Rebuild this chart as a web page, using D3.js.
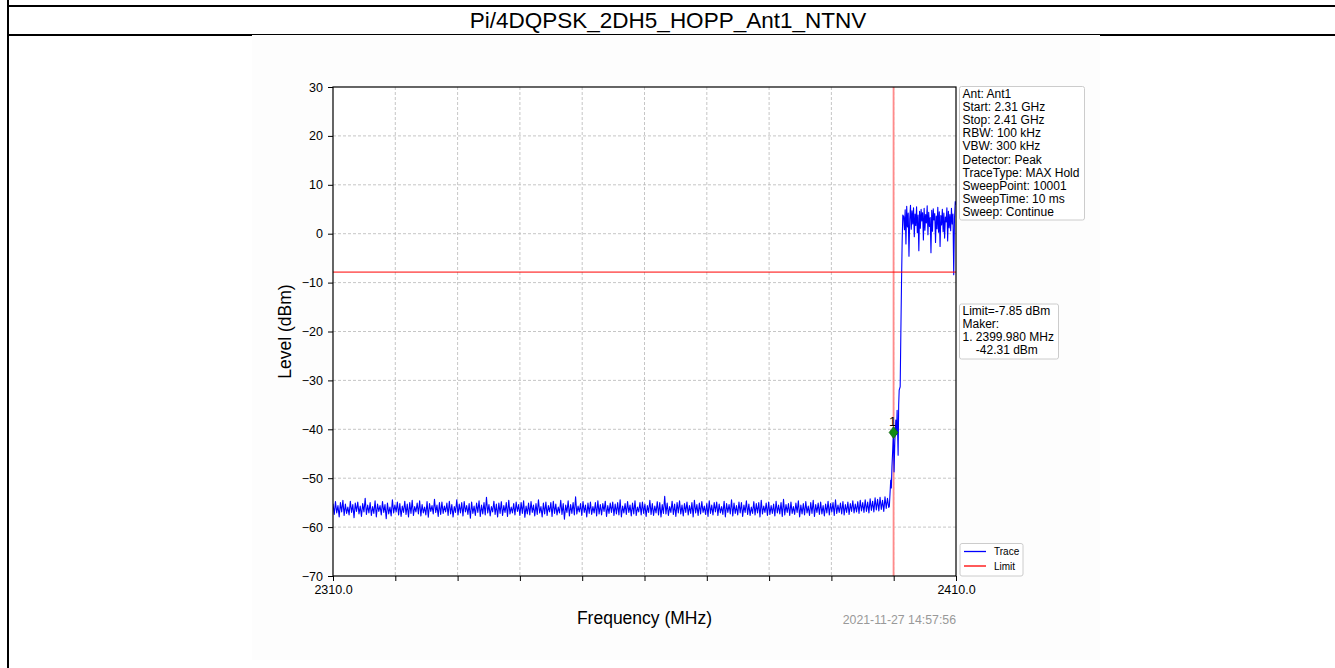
<!DOCTYPE html>
<html><head><meta charset="utf-8">
<script src="https://cdn.jsdelivr.net/npm/d3@7"></script>
<style>
body{margin:0;background:#fff;}
svg{display:block;font-family:"Liberation Sans",Arial,Helvetica,sans-serif;}
</style>
</head><body><svg id="c" width="1335" height="668"></svg>
<script>
const title = "Pi/4DQPSK_2DH5_HOPP_Ant1_NTNV";
const freqStart = 2310, freqStop = 2410;
const levelMin = -70, levelMax = 30;
const yTicks = [30,20,10,0,-10,-20,-30,-40,-50,-60,-70];
const xTicks = [2310,2320,2330,2340,2350,2360,2370,2380,2390,2400,2410];
const xTickLabels = ["2310.0","","","","","","","","","","2410.0"];

// noise floor, evenly spaced sweep points from floorStart to floorStop
const floorStart = 2310, floorStop = 2399.2;
const floorLevels = [
-55.2,-57.4,-54.8,-57.1,-55.6,-57.9,-55.0,-56.9,-54.5,-57.6,
-55.3,-57.2,-55.9,-57.5,-54.7,-57.0,-55.4,-58.1,-55.1,-56.8,
-54.9,-57.3,-55.7,-57.8,-55.2,-56.9,-54.1,-57.4,-55.5,-57.1,
-55.0,-57.6,-55.8,-57.2,-54.6,-57.9,-55.3,-56.8,-55.6,-57.5,
-54.8,-57.0,-55.4,-58.3,-55.1,-57.3,-55.9,-57.7,-54.4,-57.1,
-55.5,-56.9,-54.9,-57.5,-55.2,-57.8,-55.7,-57.0,-54.7,-57.4,
-55.3,-57.9,-55.0,-57.2,-54.5,-57.6,-55.8,-56.9,-55.1,-57.3,
-54.6,-57.7,-55.4,-57.1,-55.9,-57.5,-54.8,-58.0,-55.2,-56.8,
-55.6,-57.3,-54.3,-57.0,-55.5,-57.8,-55.0,-57.4,-54.9,-57.2,
-55.7,-56.9,-55.1,-57.6,-54.7,-57.3,-55.4,-57.9,-55.8,-57.0,
-54.4,-57.5,-55.3,-57.1,-55.0,-57.7,-54.8,-56.9,-55.6,-57.4,
-55.2,-58.2,-54.9,-57.2,-55.7,-57.6,-55.1,-57.0,-54.6,-57.8,
-55.5,-57.3,-55.0,-57.5,-53.9,-57.1,-55.4,-57.7,-55.8,-56.9,
-54.7,-57.4,-55.3,-57.9,-55.1,-57.2,-54.8,-57.6,-55.6,-57.0,
-55.0,-57.8,-54.5,-57.3,-55.9,-57.1,-55.2,-57.5,-54.9,-56.8,
-55.4,-57.6,-55.0,-57.2,-54.6,-58.0,-55.7,-57.3,-55.1,-57.5,
-54.8,-57.0,-55.5,-57.7,-55.2,-57.4,-54.4,-57.1,-55.8,-57.9,
-55.1,-57.3,-54.9,-57.6,-55.6,-56.9,-55.0,-57.8,-54.7,-57.2,
-55.3,-57.5,-55.9,-57.1,-54.5,-57.4,-55.2,-58.4,-55.5,-57.0,
-54.6,-57.7,-55.4,-57.2,-55.0,-57.5,-53.8,-57.3,-55.7,-56.9,
-55.2,-57.6,-54.8,-57.0,-55.5,-57.9,-55.1,-57.2,-54.9,-57.4,
-55.8,-57.1,-55.0,-57.7,-54.6,-57.3,-55.4,-57.5,-55.2,-56.8,
-54.7,-57.8,-55.6,-57.2,-55.1,-57.0,-54.9,-57.6,-55.3,-57.3,
-55.0,-57.5,-54.4,-57.9,-55.7,-57.1,-55.2,-57.4,-54.8,-57.0,
-55.5,-57.7,-55.1,-57.3,-54.6,-57.6,-55.9,-56.9,-55.0,-57.5,
-54.9,-57.2,-55.3,-57.8,-55.6,-57.0,-54.5,-57.4,-55.2,-57.6,
-55.7,-57.1,-54.8,-57.5,-55.0,-57.9,-55.4,-57.2,-53.7,-57.3,
-55.1,-57.6,-55.8,-57.0,-54.7,-57.4,-55.3,-57.8,-55.0,-57.1,
-54.6,-57.3,-55.5,-57.7,-55.2,-57.0,-54.9,-57.5,-55.6,-57.2,
-55.0,-57.9,-54.5,-57.1,-55.4,-57.6,-55.1,-57.3,-54.8,-57.0,
-55.7,-57.4,-55.2,-57.8,-54.6,-57.2,-55.5,-57.5,-55.0,-56.9,
-54.9,-57.6,-55.3,-57.1,-55.8,-57.4,-54.7,-57.9,-55.2,-57.0,
-55.4,-57.3,-54.4,-57.7,-55.1,-57.2,-55.6,-57.5,-54.9,-57.1,
-55.0,-57.8,-55.5,-57.0,-54.6,-57.4,-55.3,-57.6,-55.9,-57.2,
-54.8,-57.5,-55.2,-57.1,-55.0,-57.9,-54.5,-57.3,-55.7,-57.0,
-55.1,-57.6,-54.9,-57.4,-55.6,-57.2,-55.3,-57.7,-54.7,-57.1,
-55.5,-57.3,-55.0,-57.8,-54.3,-57.5,-55.4,-57.0,-55.2,-57.6,
-54.9,-57.2,-55.8,-57.4,-55.1,-57.0,-54.6,-57.9,-55.5,-57.3,
-55.2,-57.5,-54.8,-57.1,-55.7,-57.6,-55.0,-57.2,-54.5,-57.8,
-55.4,-57.0,-55.1,-57.4,-54.9,-57.3,-55.6,-57.7,-55.3,-57.1,
-54.7,-57.5,-55.2,-56.9,-55.0,-57.6,-54.4,-57.2,-55.5,-57.0,
-55.1,-57.3,-54.8,-57.5,-55.4,-57.0,-54.9,-57.4,-55.2,-56.8,
-54.6,-57.1,-55.3,-56.9,-54.8,-57.2,-54.5,-56.7,-55.0,-57.0,
-54.4,-56.8,-54.9,-57.1,-54.2,-56.6,-54.7,-56.9,-54.0,-56.5,
-54.3,-56.7,-53.9,-56.4,-54.5,-56.8,-53.8,-56.2,-54.1,-56.0
];
// band edge, explicit sweep points
const edgeFreqs  = [2399.30,2399.41,2399.52,2399.62,2399.72,2399.85,2399.95,2400.06,2400.18,2400.34,2400.45,2400.55,2400.71,2400.80,2400.88,2401.04,2401.15,2401.26,2401.36,2401.46];
const edgeLevels = [-55.8,-53.1,-50.4,-52.0,-47.6,-44.0,-40.8,-48.7,-42.5,-38.1,-41.0,-36.1,-45.3,-35.0,-32.0,-31.3,-20.0,-9.5,-1.5,3.8];
// in-band, evenly spaced from bandStart to bandStop
const bandStart = 2401.6, bandStop = 2410;
const bandLevels = [
3.5,0.8,4.9,-2.1,5.6,1.4,4.2,-4.6,3.0,5.8,
0.9,4.7,2.0,5.3,-0.6,4.0,1.7,5.5,0.2,3.8,
-3.5,4.6,1.1,5.0,2.6,4.3,-1.3,5.2,0.7,3.9,
2.2,5.7,-0.2,4.4,1.5,3.3,-3.9,4.8,0.5,5.1,
2.8,4.1,-1.8,3.6,1.0,5.4,0.3,4.5,-2.6,3.7,
1.8,5.0,0.4,4.2,-0.9,3.4,2.4,5.3,-1.5,4.6,
1.2,3.9,0.6,5.2,2.0,4.0,-8.4,3.1,6.6,5.9
];

const limitLevel = -7.85;
const markerFreq = 2399.98;
const markerLevelDrawn = -40.65;
const markerLabel = "1";

const infoLines = ["Ant: Ant1","Start: 2.31 GHz","Stop: 2.41 GHz","RBW: 100 kHz","VBW: 300 kHz","Detector: Peak","TraceType: MAX Hold","SweepPoint: 10001","SweepTime: 10 ms","Sweep: Continue"];
const markerLines = ["Limit=-7.85 dBm","Maker:","1. 2399.980 MHz","    -42.31 dBm"];
const legendNames = ["Trace","Limit"];
const legendColors = ["#0000ff","#ff0000"];
const xLabel = "Frequency (MHz)";
const yLabel = "Level (dBm)";
const timestamp = "2021-11-27 14:57:56";

// ---- build trace
const trace = [];
floorLevels.forEach((v,i)=>trace.push([floorStart + i*(floorStop-floorStart)/(floorLevels.length-1), v]));
edgeFreqs.forEach((f,i)=>trace.push([f, edgeLevels[i]]));
bandLevels.forEach((v,i)=>trace.push([bandStart + i*(bandStop-bandStart)/(bandLevels.length-1), v]));

const svg = d3.select("#c");

// page frame
svg.append("rect").attr("x",7).attr("y",0).attr("width",2).attr("height",668).attr("fill","#000");
svg.append("rect").attr("x",7).attr("y",5).attr("width",1328).attr("height",2).attr("fill","#000");
svg.append("rect").attr("x",7).attr("y",34).attr("width",1328).attr("height",2).attr("fill","#000");
svg.append("text").attr("x",668).attr("y",28).attr("text-anchor","middle")
  .attr("font-size",22.5).attr("fill","#000").text(title);
// chart picture background
svg.append("rect").attr("x",252).attr("y",35).attr("width",848).attr("height",625).attr("fill","#fdfdfd");

const L=333, R=956, T=87, B=576;
const x = d3.scaleLinear().domain([freqStart,freqStop]).range([L,R]);
const y = d3.scaleLinear().domain([levelMin,levelMax]).range([B,T]);

svg.append("rect").attr("x",L).attr("y",T).attr("width",R-L).attr("height",B-T).attr("fill","#fff");

// grid
const g = svg.append("g");
g.selectAll(".gx").data(xTicks.slice(1,-1)).enter().append("line")
  .attr("x1",d=>x(d)).attr("x2",d=>x(d)).attr("y1",T).attr("y2",B)
  .attr("stroke","#b8b8b8").attr("stroke-width",0.8).attr("stroke-dasharray","3,2");
g.selectAll(".gy").data(yTicks.slice(1,-1)).enter().append("line")
  .attr("x1",L).attr("x2",R).attr("y1",d=>y(d)).attr("y2",d=>y(d))
  .attr("stroke","#b8b8b8").attr("stroke-width",0.8).attr("stroke-dasharray","3,2");

// clip
svg.append("clipPath").attr("id","clip").append("rect").attr("x",L).attr("y",T).attr("width",R-L).attr("height",B-T);
const pg = svg.append("g").attr("clip-path","url(#clip)");

// vertical marker limit line (under trace)
pg.append("line").attr("x1",x(markerFreq)).attr("x2",x(markerFreq)).attr("y1",T).attr("y2",B)
  .attr("stroke","#ff8a8a").attr("stroke-width",1.8);
// trace
pg.append("path").datum(trace)
  .attr("d", d3.line().x(d=>x(d[0])).y(d=>y(d[1])))
  .attr("fill","none").attr("stroke","#0000ff").attr("stroke-width",1.1).attr("stroke-linejoin","round");
// limit line
pg.append("line").attr("x1",L).attr("x2",R).attr("y1",y(limitLevel)).attr("y2",y(limitLevel))
  .attr("stroke","#ff0000").attr("stroke-width",1);

// marker
const mx = x(markerFreq), my = y(markerLevelDrawn);
svg.append("path").attr("d",`M${mx},${my-6}L${mx+4.5},${my}L${mx},${my+6}L${mx-4.5},${my}Z`)
  .attr("fill","#138a13").attr("stroke","#0a5a0a").attr("stroke-width",0.6);
svg.append("text").attr("x",mx-1).attr("y",my-6.5).attr("text-anchor","middle").attr("font-size",13).attr("fill","#000").text(markerLabel);

// axes
const xAxis = d3.axisBottom(x).tickValues(xTicks).tickFormat((d,i)=>xTickLabels[i]).tickSizeOuter(0).tickSize(5).tickPadding(4);
const gx = svg.append("g").attr("transform",`translate(0,${B})`).call(xAxis);
const yAxis = d3.axisLeft(y).tickValues(yTicks).tickFormat(d=>String(d).replace("-","\u2212")).tickSizeOuter(0).tickSize(5).tickPadding(5);
const gy = svg.append("g").attr("transform",`translate(${L},0)`).call(yAxis);
[gx,gy].forEach(a=>{
  a.selectAll("text").attr("font-size",12.5).attr("fill","#000").attr("font-family","Liberation Sans, Arial, sans-serif");
  a.selectAll("line").attr("stroke","#000");
  a.select(".domain").remove();
});
// frame
svg.append("rect").attr("x",L).attr("y",T).attr("width",R-L).attr("height",B-T)
  .attr("fill","none").attr("stroke","#000").attr("stroke-width",1.2);

// labels
svg.append("text").attr("x",(L+R)/2).attr("y",624).attr("text-anchor","middle").attr("font-size",17.5).attr("fill","#000").text(xLabel);
svg.append("text").attr("transform",`translate(291,${(T+B)/2}) rotate(-90)`).attr("text-anchor","middle").attr("font-size",17.5).attr("fill","#000").text(yLabel);
svg.append("text").attr("x",R).attr("y",624).attr("text-anchor","end").attr("font-size",12.3).attr("fill","#999").text(timestamp);

// info box
function box(x0,y0,w,h){
  svg.append("rect").attr("x",x0).attr("y",y0).attr("width",w).attr("height",h).attr("rx",2)
    .attr("fill","#fff").attr("stroke","#cccccc").attr("stroke-width",1);
}
box(959.5,86.5,125,133.5);
svg.append("g").selectAll("text").data(infoLines).enter().append("text")
  .attr("x",962.5).attr("y",(d,i)=>97.5+i*13.2).attr("font-size",12).attr("fill","#000")
  .style("white-space","pre").text(d=>d);
box(959.5,304,99,55);
svg.append("g").selectAll("text").data(markerLines).enter().append("text")
  .attr("x",962.5).attr("y",(d,i)=>315+i*13).attr("font-size",12).attr("fill","#000")
  .style("white-space","pre").text(d=>d);
// legend
box(960,543.5,63,32.5);
const lg = svg.append("g").selectAll("g").data(legendNames).enter().append("g");
lg.append("line").attr("x1",964).attr("x2",986).attr("y1",(d,i)=>551.5+i*14.5).attr("y2",(d,i)=>551.5+i*14.5)
  .attr("stroke",(d,i)=>legendColors[i]).attr("stroke-width",1.3);
lg.append("text").attr("x",994).attr("y",(d,i)=>555+i*14.5).attr("font-size",10).attr("fill","#000").text(d=>d);
</script>
</body></html>
